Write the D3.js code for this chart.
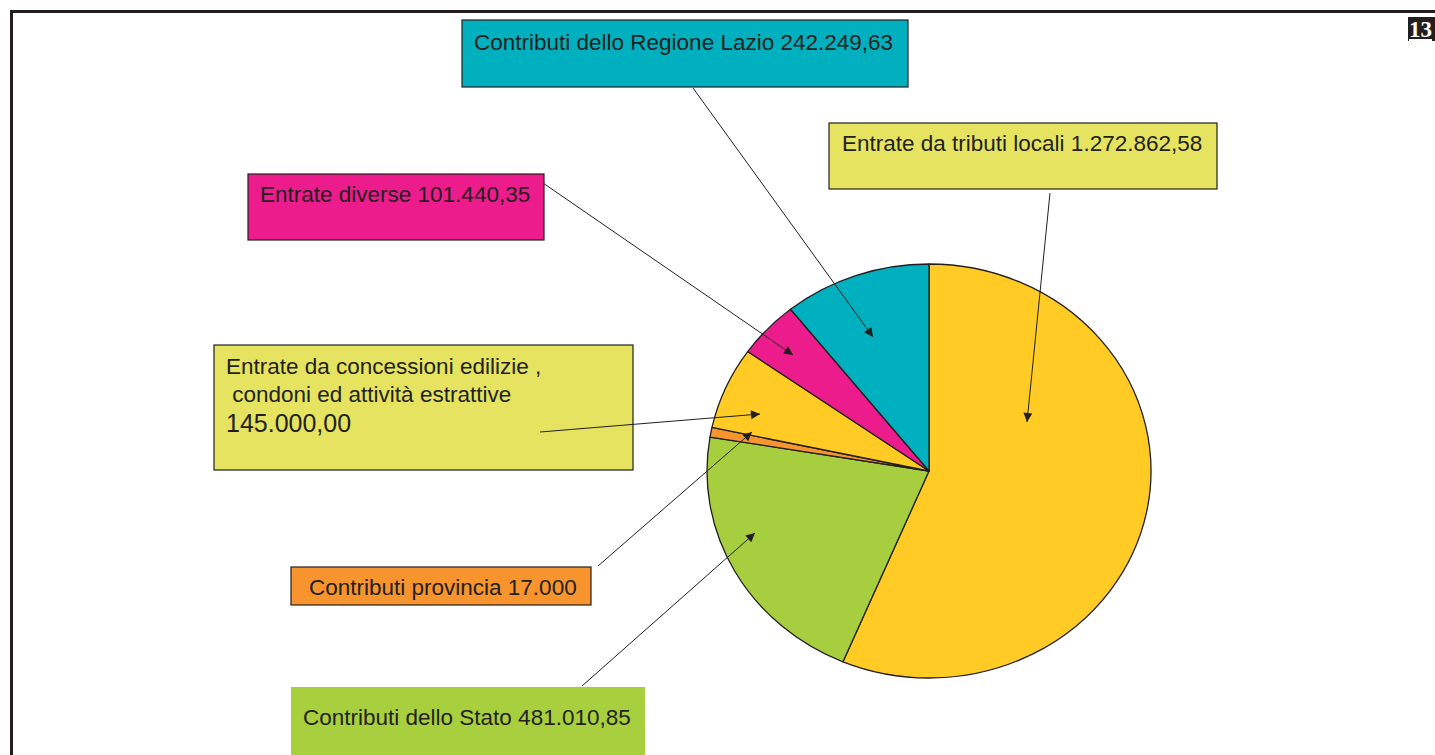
<!DOCTYPE html>
<html>
<head>
<meta charset="utf-8">
<script src="https://cdn.jsdelivr.net/npm/d3@7"></script>
<style>
  body { margin: 0; background: #fff; }
  svg { display: block; font-family: Arial, "Liberation Sans", sans-serif; }
</style>
</head>
<body>
<div class="wrapper"></div>
<script>
// slices, clockwise from 12 o'clock
var categories = ["Entrate da tributi locali", "Contributi dello Stato", "Contributi provincia",
                  "Entrate da concessioni edilizie", "Entrate diverse", "Contributi dello Regione Lazio"];
var values = [1272862.58, 481010.85, 17000, 145000, 101440.35, 242249.63];
var sliceColors = ["#ffcb24", "#a6ce3f", "#f7962e", "#ffcb24", "#ec1c8c", "#00b0be"];

// callout boxes: text lines as written in the picture
var labelLines = [
  ["Entrate da tributi locali 1.272.862,58"],
  ["Contributi dello Stato 481.010,85"],
  ["Contributi provincia 17.000"],
  ["Entrate da concessioni edilizie ,", " condoni ed attività estrattive", "145.000,00"],
  ["Entrate diverse 101.440,35"],
  ["Contributi dello Regione Lazio 242.249,63"]
];
var boxColors = ["#e5e35f", "#a8cf3e", "#f7942e", "#e5e35f", "#ec1c8c", "#00b0be"];

var w = 1435, h = 755;
var cx = 929, cy = 471, ry = 207, rx = 222;

var svg = d3.select(".wrapper").append("svg")
    .attr("width", w)
    .attr("height", h);

svg.append("defs").append("marker")
    .attr("id", "arr")
    .attr("viewBox", "0 0 10 10")
    .attr("refX", 10).attr("refY", 5)
    .attr("markerWidth", 11).attr("markerHeight", 9)
    .attr("markerUnits", "userSpaceOnUse")
    .attr("orient", "auto")
  .append("path")
    .attr("d", "M0,0L10,5L0,10z")
    .attr("fill", "#231f20");

// page frame
svg.append("path")
    .attr("d", "M11.5," + h + "V11.5H" + w)
    .attr("fill", "none").attr("stroke", "#231f20").attr("stroke-width", 3);

var pg = svg.append("g");
pg.append("rect").attr("x", 1408).attr("y", 17).attr("width", 27).attr("height", 24).attr("fill", "#231f20");
pg.append("text").attr("x", 1409).attr("y", 37)
    .attr("font-family", "'Liberation Serif', 'DejaVu Serif', serif")
    .attr("font-weight", "bold").attr("font-size", 23)
    .attr("fill", "#fff").attr("text-decoration", "underline")
    .text("13");

// pie, drawn as circle and stretched a bit horizontally like the original
var pie = d3.pie().sort(null).value(function(d) { return d; });
var arc = d3.arc().innerRadius(0).outerRadius(ry);
var arcs = pie(values);

svg.append("g")
    .attr("transform", "translate(" + cx + "," + cy + ") scale(" + (rx / ry) + ",1)")
  .selectAll("path")
    .data(arcs)
  .enter().append("path")
    .attr("d", arc)
    .attr("fill", function(d, i) { return sliceColors[i]; })
    .attr("stroke", "#231f20")
    .attr("stroke-width", 1.3)
    .attr("stroke-linejoin", "round")
    .attr("vector-effect", "non-scaling-stroke");

// box layout (x, y, width, height, text x, first baseline)
var boxes = [
  {x: 829, y: 123, bw: 388, bh: 66, tx: 842, ty: 151, border: true},
  {x: 291, y: 687, bw: 354, bh: 70, tx: 303, ty: 725, border: false},
  {x: 291, y: 567, bw: 300, bh: 38, tx: 309, ty: 595, border: true},
  {x: 214, y: 345, bw: 419, bh: 125, tx: 226, ty: 374, border: true},
  {x: 248, y: 174, bw: 296, bh: 66, tx: 260, ty: 202, border: true},
  {x: 462, y: 20, bw: 446, bh: 67, tx: 474, ty: 50, border: true}
];
// leader lines: start point near box, arrow tip inside slice
var leaders = [
  [[1050, 193], [1027, 422]],
  [[582, 686], [755, 533]],
  [[598, 566], [752, 432]],
  [[540, 432], [760, 414]],
  [[543, 183], [793, 355]],
  [[693, 88], [873, 337]]
];

var lab = svg.selectAll("g.lab")
    .data(boxes)
  .enter().append("g")
    .attr("class", "lab");

lab.append("rect")
    .attr("x", function(d) { return d.x; })
    .attr("y", function(d) { return d.y; })
    .attr("width", function(d) { return d.bw; })
    .attr("height", function(d) { return d.bh; })
    .attr("fill", function(d, i) { return boxColors[i]; })
    .attr("stroke", function(d) { return d.border ? "#231f20" : "none"; })
    .attr("stroke-width", 1.2);

lab.each(function(d, i) {
  var g = d3.select(this);
  labelLines[i].forEach(function(t, j) {
    var big = (i === 3 && j === 2);
    g.append("text")
        .attr("x", d.tx)
        .attr("y", d.ty + j * 27.5 + (big ? 3 : 0))
        .attr("font-size", big ? 25 : 22.5)
        .attr("fill", "#231f20")
        .attr("xml:space", "preserve")
        .style("white-space", "pre")
        .text(t);
  });
});

svg.selectAll("line.lead")
    .data(leaders)
  .enter().append("line")
    .attr("class", "lead")
    .attr("x1", function(d) { return d[0][0]; })
    .attr("y1", function(d) { return d[0][1]; })
    .attr("x2", function(d) { return d[1][0]; })
    .attr("y2", function(d) { return d[1][1]; })
    .attr("stroke", "#231f20")
    .attr("stroke-width", 1)
    .attr("marker-end", "url(#arr)");
</script>
</body>
</html>
